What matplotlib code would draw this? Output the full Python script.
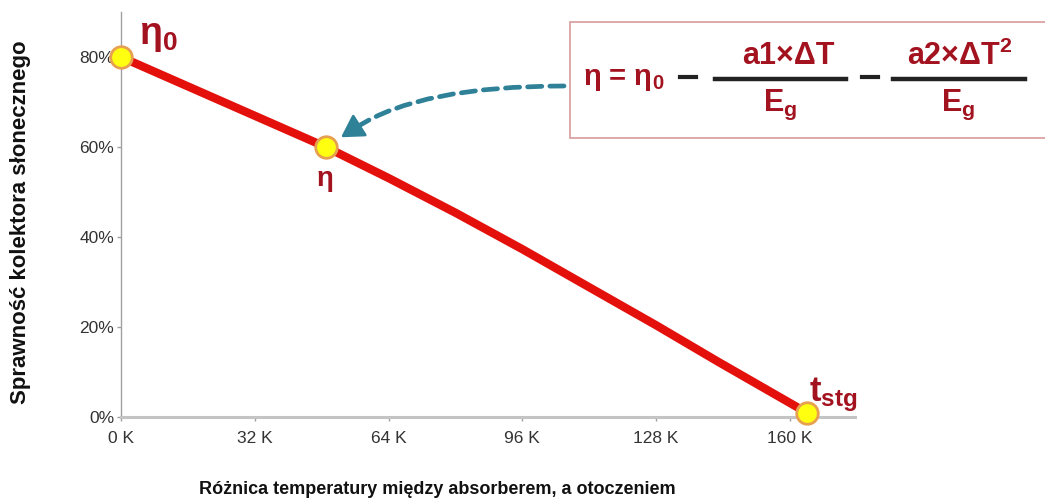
import matplotlib
matplotlib.use("Agg")
import matplotlib.pyplot as plt
from matplotlib.patches import Rectangle
from matplotlib.lines import Line2D

# ---- data ----
temp_k = [0, 49, 64, 80, 96, 110, 128, 143, 164]
efficiency = [80, 60, 53.1, 45.4, 37.3, 29.9, 20.4, 12.2, 1]
key_temp = [0, 49, 164]
key_eff = [80, 60, 1]
key_labels = [r"$\eta_0$", r"$\eta$", r"$t_{stg}$"]
x_ticks = [0, 32, 64, 96, 128, 160]
x_tick_labels = ["0 K", "32 K", "64 K", "96 K", "128 K", "160 K"]
y_ticks = [0, 20, 40, 60, 80]
y_tick_labels = ["0%", "20%", "40%", "60%", "80%"]
x_title = "Różnica temperatury między absorberem, a otoczeniem"
y_title = "Sprawność kolektora słonecznego"

plt.rcParams["font.family"] = ["Liberation Sans", "DejaVu Sans"]
plt.rcParams["mathtext.fontset"] = "custom"
plt.rcParams["mathtext.rm"] = "Liberation Sans:bold"
plt.rcParams["mathtext.it"] = "Liberation Sans:bold"
plt.rcParams["mathtext.bf"] = "Liberation Sans:bold"
plt.rcParams["mathtext.default"] = "rm"

W, H = 1045, 500
fig = plt.figure(figsize=(W / 100, H / 100), dpi=100)
fig.patch.set_facecolor("white")

def fx(px):
    return px / W

def fy(py):
    return 1 - py / H

ax = fig.add_axes([fx(121), fy(417), fx(855) - fx(121), fy(12) - fy(417)])
ax.set_xlim(0, 175.6)
ax.set_ylim(0, 90)

line_red = "#e3100c"
dark_red = "#a3121f"

ax.plot(temp_k, efficiency, color=line_red, lw=6, solid_capstyle="round",
        solid_joinstyle="round", zorder=3, clip_on=False)
ax.plot(key_temp, key_eff, ls="none", marker="o", ms=15.5, mfc="#ffff10",
        mec="#e6a050", mew=2, zorder=4, clip_on=False)

ax.set_xticks(x_ticks)
ax.set_xticklabels(x_tick_labels)
ax.set_yticks(y_ticks)
ax.set_yticklabels(y_tick_labels)
ax.tick_params(axis="both", labelsize=12.5, length=3, width=1,
               direction="out", colors="#a0a0a0", labelcolor="#333333")
ax.tick_params(axis="x", pad=7)
ax.tick_params(axis="y", pad=2)
for s in ["top", "right"]:
    ax.spines[s].set_visible(False)
ax.spines["left"].set_color("#a0a0a0")
ax.spines["left"].set_linewidth(1)
ax.spines["bottom"].set_color("#c4c4c4")
ax.spines["bottom"].set_linewidth(2.2)

# point labels
ax.annotate(key_labels[0], (key_temp[0], key_eff[0]), xytext=(13, 2),
            textcoords="offset points", fontsize=27, color=dark_red,
            ha="left", va="bottom", fontweight="bold")
ax.annotate(key_labels[1], (key_temp[1], key_eff[1]), xytext=(-1, -15),
            textcoords="offset points", fontsize=20, color=dark_red,
            ha="center", va="top", fontweight="bold")
ax.annotate(key_labels[2], (key_temp[2], key_eff[2]), xytext=(2, -1),
            textcoords="offset points", fontsize=25, color=dark_red,
            ha="left", va="bottom", fontweight="bold")

# axis titles
fig.text(fx(21), fy(222), y_title, rotation=90, ha="center", va="center",
         fontsize=16, fontweight="bold", color="#111111")
fig.text(fx(437), fy(490), x_title, ha="center", va="center",
         fontsize=13, fontweight="bold", color="#111111")

# formula box
box = Rectangle((fx(570), fy(138)), fx(1050) - fx(570), fy(22) - fy(138),
                transform=fig.transFigure, facecolor="white",
                edgecolor="#d9a3a3", lw=1.3, zorder=5)
fig.patches.append(box)

fig.text(fx(583), fy(79), r"$\eta$ = $\eta_0$", ha="left", va="center",
         fontsize=21, fontweight="bold", color=dark_red, zorder=6)
for xm in [(680, 696), (862, 878)]:
    fig.lines.append(Line2D([fx(xm[0]), fx(xm[1])], [fy(77), fy(77)],
                            transform=fig.transFigure, color="#222222",
                            lw=3, zorder=6))
for xb in [(715, 846), (893, 1025)]:
    fig.lines.append(Line2D([fx(xb[0]), fx(xb[1])], [fy(79), fy(79)],
                            transform=fig.transFigure, color="#222222",
                            lw=3.2, zorder=6))
fig.text(fx(788), fy(56), "a1×ΔT", ha="center", va="center", fontsize=22,
         fontweight="bold", color=dark_red, zorder=6)
fig.text(fx(780), fy(105), r"E$_g$", ha="center", va="center", fontsize=22,
         fontweight="bold", color=dark_red, zorder=6)
fig.text(fx(960), fy(56), r"a2×ΔT$^2$", ha="center", va="center",
         fontsize=22, fontweight="bold", color=dark_red, zorder=6)
fig.text(fx(958), fy(105), r"E$_g$", ha="center", va="center", fontsize=22,
         fontweight="bold", color=dark_red, zorder=6)

# dashed arrow pointing to eta
teal = "#2f8198"
head_base = (key_temp[1] + 7.4, key_eff[1] + 4.4)
ax.annotate("", xy=head_base, xytext=(fx(564), fy(86)),
            textcoords="figure fraction",
            arrowprops=dict(arrowstyle="-", color=teal, lw=3.4,
                            ls=(0, (3.0, 1.7)),
                            connectionstyle="angle3,angleA=0,angleB=33",
                            shrinkA=0, shrinkB=0),
            zorder=5)
ax.annotate("", xy=(key_temp[1], key_eff[1]), xytext=head_base,
            arrowprops=dict(arrowstyle="-|>,head_length=0.68,head_width=0.4",
                            color=teal, lw=2, mutation_scale=20,
                            shrinkA=0, shrinkB=13),
            zorder=5)

fig.savefig("out.png", dpi=100, facecolor="white")
